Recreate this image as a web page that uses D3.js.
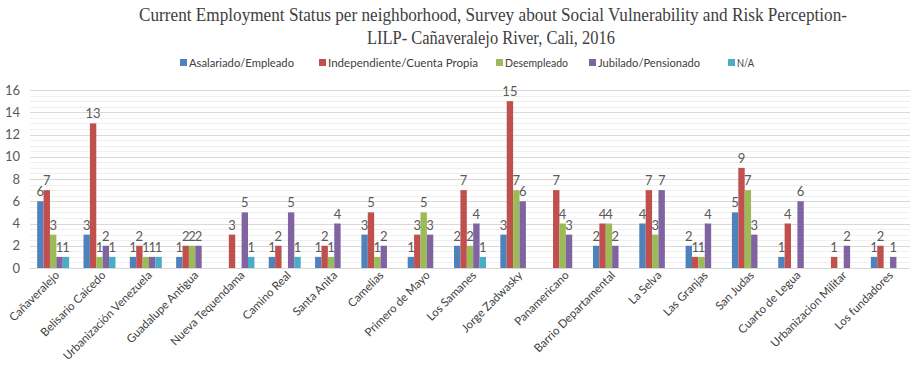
<!DOCTYPE html>
<html>
<head>
<meta charset="utf-8">
<script src="https://cdn.jsdelivr.net/npm/d3@7/dist/d3.min.js"></script>
<style>
  html, body { margin: 0; padding: 0; background: #fff; }
  svg { display: block; }
</style>
</head>
<body>
<svg id="chart" width="912" height="365"></svg>
<script>
// Neighborhoods surveyed along the Cañaveralejo River
const neighborhoods = [
  "Cañaveralejo", "Belisario Caicedo", "Urbanización Venezuela", "Guadalupe Antigua",
  "Nueva Tequendama", "Camino Real", "Santa Anita", "Camelias", "Primero de Mayo",
  "Los Samanes", "Jorge Zadwasky", "Panamericano", "Barrio Departamental", "La Selva",
  "Las Granjas", "San Judas", "Cuarto de Legua", "Urbanizacion Militar", "Los fundadores"
];

const seriesNames = [
  "Asalariado/Empleado", "Independiente/Cuenta Propia", "Desempleado",
  "Jubilado/Pensionado", "N/A"
];

// Counts per neighborhood (null = no respondents in that status)
const asalariado    = [6, 3, 1, 1, null, 1, 1, 3, 1, 2, 3, null, 2, 4, 2, 5, 1, null, 1];
const independiente = [7, 13, 2, 2, 3, 2, 2, 5, 3, 7, 15, 7, 4, 7, 1, 9, 4, 1, 2];
const desempleado   = [3, 1, 1, 2, null, null, 1, 1, 5, 2, 7, 4, 4, 3, 1, 7, null, null, null];
const jubilado      = [1, 2, 1, 2, 5, 5, 4, 2, 3, 4, 6, 3, 2, 7, 4, 3, 6, 2, 1];
const noAplica      = [1, 1, 1, null, 1, 1, null, null, null, 1, null, null, null, null, null, null, null, null, null];

const yTicks = [0, 2, 4, 6, 8, 10, 12, 14, 16];

const seriesValues = [asalariado, independiente, desempleado, jubilado, noAplica];
const colors = ["#4F81BD", "#C0504D", "#9BBB59", "#8064A2", "#4BACC6"];

const svg = d3.select("#chart");
const margin = { left: 30, right: 2, top: 90, bottom: 97 };
const W = 912, H = 365;
const plotW = W - margin.left - margin.right;
const plotH = H - margin.top - margin.bottom;

const g = svg.append("g").attr("transform", `translate(${margin.left},${margin.top})`);

const x = d3.scaleBand().domain(neighborhoods).range([0, plotW]).paddingInner(0.31).paddingOuter(0.155);
const xs = d3.scaleBand().domain(d3.range(seriesNames.length)).range([0, x.bandwidth()]);
const y = d3.scaleLinear().domain([0, 16]).range([plotH, 0]);

// Minor gridlines
g.append("g").selectAll("line")
  .data(d3.range(0, 16.01, 0.5).filter(v => v % 2 !== 0))
  .join("line")
  .attr("x1", 0).attr("x2", plotW)
  .attr("y1", d => Math.round(y(d)) + 0.5).attr("y2", d => Math.round(y(d)) + 0.5)
  .attr("stroke", "#f0f0f0").attr("stroke-width", 1);

// Major gridlines
g.append("g").selectAll("line")
  .data(yTicks.filter(v => v > 0))
  .join("line")
  .attr("x1", 0).attr("x2", plotW)
  .attr("y1", d => Math.round(y(d)) + 0.5).attr("y2", d => Math.round(y(d)) + 0.5)
  .attr("stroke", "#d9d9d9").attr("stroke-width", 1);

// Y axis labels
const yAxis = g.append("g").call(d3.axisLeft(y).tickValues(yTicks).tickSize(0).tickPadding(10));
yAxis.select(".domain").remove();
yAxis.selectAll("text")
  .attr("font-family", "Lato, Open Sans, sans-serif")
  .attr("font-size", 13).attr("fill", "#595959");

// Bars
const groups = g.append("g").selectAll("g")
  .data(neighborhoods)
  .join("g")
  .attr("transform", d => `translate(${x(d)},0)`);

groups.each(function(name, i) {
  const row = seriesValues.map((vals, s) => ({ s, v: vals[i] })).filter(d => d.v != null);
  const gg = d3.select(this);
  gg.selectAll("rect")
    .data(row)
    .join("rect")
    .attr("x", d => xs(d.s))
    .attr("width", xs.bandwidth())
    .attr("y", d => y(d.v))
    .attr("height", d => y(0) - y(d.v))
    .attr("fill", d => colors[d.s]);
  gg.selectAll("text")
    .data(row)
    .join("text")
    .attr("x", d => xs(d.s) + xs.bandwidth() / 2)
    .attr("y", d => y(d.v) - 5)
    .attr("text-anchor", "middle")
    .attr("font-family", "Lato, Open Sans, sans-serif")
    .attr("font-size", 13).attr("fill", "#595959")
    .text(d => d.v);
});

// X axis baseline
g.append("line")
  .attr("x1", 0).attr("x2", plotW)
  .attr("y1", plotH + 0.5).attr("y2", plotH + 0.5)
  .attr("stroke", "#d9d9d9");

// Category labels, rotated
const xAxis = g.append("g").attr("transform", `translate(0,${plotH})`)
  .call(d3.axisBottom(x).tickSize(0).tickPadding(0));
xAxis.select(".domain").remove();
xAxis.selectAll("text")
  .attr("font-family", "Lato, Open Sans, sans-serif")
  .attr("font-size", 11.5).attr("fill", "#404040")
  .attr("text-anchor", "end")
  .attr("dy", 0)
  .attr("transform", "translate(7,8) rotate(-45)");

// Title
const title = svg.append("text")
  .attr("text-anchor", "middle")
  .attr("font-family", "Liberation Serif, DejaVu Serif, serif")
  .attr("font-size", 18).attr("fill", "#404040");
title.append("tspan").attr("x", 493).attr("y", 21)
  .attr("textLength", 708).attr("lengthAdjust", "spacingAndGlyphs")
  .text("Current Employment Status per neighborhood, Survey about Social Vulnerability and Risk Perception-");
title.append("tspan").attr("x", 491).attr("y", 44)
  .attr("textLength", 248).attr("lengthAdjust", "spacingAndGlyphs")
  .text("LILP- Cañaveralejo River, Cali, 2016");

// Legend
const legendX = [180, 319, 496, 589, 728];
const legendW = [105, 150, 63, 102, 17];
const legend = svg.append("g").selectAll("g")
  .data(seriesNames)
  .join("g")
  .attr("transform", (d, i) => `translate(${legendX[i]},63)`);
legend.append("rect").attr("x", 0).attr("y", -4).attr("width", 7).attr("height", 7)
  .attr("fill", (d, i) => colors[i]);
legend.append("text").attr("x", 9).attr("y", 4)
  .attr("font-family", "Lato, Open Sans, sans-serif")
  .attr("font-size", 12).attr("fill", "#404040")
  .attr("textLength", (d, i) => legendW[i]).attr("lengthAdjust", "spacingAndGlyphs")
  .text(d => d);
</script>
</body>
</html>
